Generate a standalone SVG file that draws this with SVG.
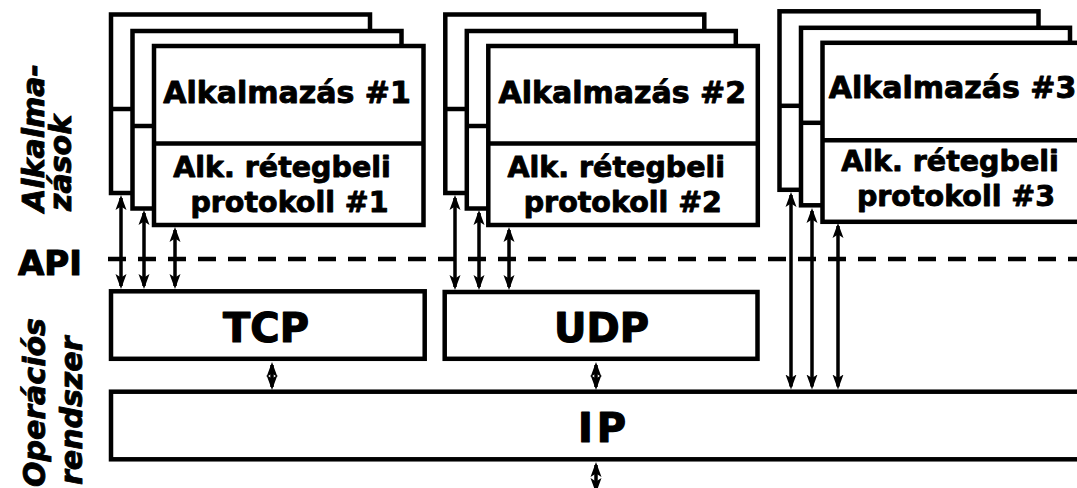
<svg xmlns="http://www.w3.org/2000/svg" width="1077" height="488" viewBox="0 0 1077 488">
<style>
.box{fill:#fff;stroke:#000;stroke-width:4.5}
.div{stroke:#000;stroke-width:4.5;fill:none}
.t{font-family:"DejaVu Sans","Verdana",sans-serif;font-weight:bold;fill:#000;stroke:#000;stroke-width:0.9;stroke-linejoin:round;text-anchor:middle}
.t1{font-size:30px}
.t2{font-size:28.5px}
.big{font-size:40px;stroke-width:1.2}
.side{font-family:"DejaVu Sans",sans-serif;font-weight:bold;font-style:italic;font-size:30px;fill:#000;stroke:#000;stroke-width:0.9;stroke-linejoin:round}
.arr{stroke:#000;stroke-width:3.5;fill:none;marker-start:url(#ah);marker-end:url(#ah)}
.api{stroke:#000;stroke-width:4.5;stroke-dasharray:18 12;fill:none}
</style>
<defs>
<marker id="ah" markerUnits="userSpaceOnUse" viewBox="0 0 16 12" markerWidth="16" markerHeight="12" refX="12" refY="6" orient="auto-start-reverse">
<path d="M0,0.5 L15,6 L0,11.5 L3.5,6 Z" fill="#000"/>
</marker>
</defs>
<rect width="1077" height="488" fill="#fff"/>

<g id="label-alkalmazasok">
<text class="side" transform="translate(43.5,212) rotate(-90)">Alkalma-</text>
<text class="side" transform="translate(71,211) rotate(-90)">zások</text>
</g>
<g id="label-os">
<text class="side" transform="translate(45,487) rotate(-90)">Operációs</text>
<text class="side" transform="translate(82,485) rotate(-90)">rendszer</text>
</g>
<g id="label-api">
<text class="t" x="50" y="275" style="font-size:34px;stroke-width:1.2">API</text>
</g>

<g id="api-line">
<line class="api" x1="108" y1="259" x2="1077" y2="259"/>
</g>

<g id="app1">
<rect class="box" x="111" y="14.5" width="259" height="178.5"/>
<line class="div" x1="111" y1="109" x2="132" y2="109"/>
<rect class="box" x="132.5" y="31" width="269" height="177.5"/>
<line class="div" x1="132.5" y1="126" x2="154" y2="126"/>
<rect class="box" x="154" y="46" width="269.5" height="179"/>
<line class="div" x1="154" y1="143.5" x2="423.5" y2="143.5"/>
<text class="t t1" x="287" y="103">Alkalmazás #1</text>
<text class="t t2" x="282" y="176.5">Alk. rétegbeli</text>
<text class="t t2" x="289.5" y="211.5">protokoll #1</text>
</g>

<g id="app2" transform="translate(334.3,0)">
<rect class="box" x="111" y="14.5" width="259" height="178.5"/>
<line class="div" x1="111" y1="109" x2="132" y2="109"/>
<rect class="box" x="132.5" y="31" width="269" height="177.5"/>
<line class="div" x1="132.5" y1="126" x2="154" y2="126"/>
<rect class="box" x="154" y="46" width="269.5" height="179"/>
<line class="div" x1="154" y1="143.5" x2="423.5" y2="143.5"/>
<text class="t t1" x="288" y="102.5">Alkalmazás #2</text>
<text class="t t2" x="282" y="176.5">Alk. rétegbeli</text>
<text class="t t2" x="288.5" y="211.5">protokoll #2</text>
</g>

<g id="app3" transform="translate(668.5,-3.2)">
<rect class="box" x="111" y="14.5" width="259" height="178.5"/>
<line class="div" x1="111" y1="109" x2="132" y2="109"/>
<rect class="box" x="132.5" y="31" width="269" height="177.5"/>
<line class="div" x1="132.5" y1="126" x2="154" y2="126"/>
<rect class="box" x="154" y="46" width="269.5" height="179"/>
<line class="div" x1="154" y1="143.5" x2="423.5" y2="143.5"/>
<text class="t t1" x="284" y="101.5">Alkalmazás #3</text>
<text class="t t2" x="281.5" y="174">Alk. rétegbeli</text>
<text class="t t2" x="287.5" y="209">protokoll #3</text>
</g>

<g id="tcp">
<rect class="box" x="111" y="291.3" width="313.7" height="67.5"/>
<text class="t big" x="266" y="342">TCP</text>
</g>
<g id="udp">
<rect class="box" x="444.7" y="292" width="312.8" height="66.8"/>
<text class="t big" x="601.5" y="342">UDP</text>
</g>
<g id="ip">
<rect class="box" x="111" y="391.7" width="1000" height="67.6"/>
<text class="t big" x="602" y="442" textLength="48" lengthAdjust="spacing">IP</text>
</g>

<g id="connectors">
<line class="arr" x1="121" y1="198" x2="121" y2="286"/>
<line class="arr" x1="144" y1="213" x2="144" y2="286"/>
<line class="arr" x1="175" y1="230" x2="175" y2="286"/>
<line class="arr" x1="455" y1="198" x2="455" y2="287"/>
<line class="arr" x1="479" y1="213" x2="479" y2="287"/>
<line class="arr" x1="509" y1="230" x2="509" y2="287"/>
<line class="arr" x1="791" y1="195" x2="791" y2="386.5"/>
<line class="arr" x1="812" y1="211" x2="812" y2="386.5"/>
<line class="arr" x1="838" y1="226" x2="838" y2="386.5"/>
<line class="arr" x1="272" y1="365" x2="272" y2="387"/>
<line class="arr" x1="596" y1="365" x2="596" y2="387"/>
<line class="arr" x1="596" y1="465" x2="596" y2="490"/>
</g>
</svg>
